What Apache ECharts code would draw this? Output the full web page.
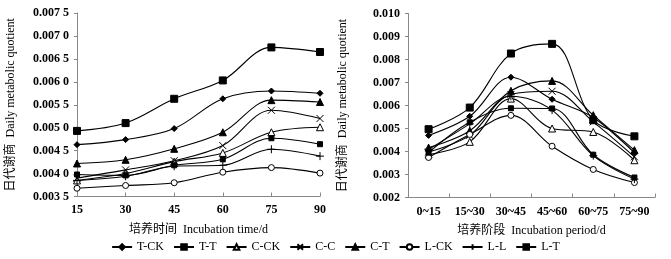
<!DOCTYPE html>
<html><head><meta charset="utf-8">
<script src="https://cdn.jsdelivr.net/npm/echarts@6/dist/echarts.min.js"></script>
<style>html,body{margin:0;padding:0;background:#fff}#c{width:671px;height:259px}</style>
</head><body><div id="c"></div>
<script>
var seriesNames = ['T-CK','T-T','C-CK','C-C','C-T','L-CK','L-L','L-T'];
var timeDays = [15,30,45,60,75,90];
var periods = ['0~15','15~30','30~45','45~60','60~75','75~90'];
var leftYTicks = [0.0035,0.0075,0.0005];
var rightYTicks = [0.002,0.010,0.001];

// Left: Daily metabolic quotient vs incubation time
var L_TCK = [0.00463,0.00474,0.00498,0.00563,0.00580,0.00575];
var L_TT  = [0.00493,0.00510,0.00563,0.00603,0.00675,0.00665];
var L_CCK = [0.00385,0.00400,0.00426,0.00445,0.00490,0.00501];
var L_CC  = [0.00390,0.00408,0.00428,0.00461,0.00538,0.00520];
var L_CT  = [0.00422,0.00430,0.00454,0.00490,0.00560,0.00556];
var L_LCK = [0.00368,0.00374,0.00380,0.00403,0.00413,0.00401];
var L_LL  = [0.00385,0.00394,0.00416,0.00418,0.00453,0.00438];
var L_LT  = [0.00398,0.00396,0.00418,0.00431,0.00477,0.00464];

// Right: Daily metabolic quotient vs incubation period
var R_TCK = [0.00470,0.00553,0.00723,0.00627,0.00548,0.00394];
var R_TT  = [0.00497,0.00591,0.00826,0.00868,0.00536,0.00466];
var R_CCK = [0.00387,0.00442,0.00630,0.00500,0.00485,0.00362];
var R_CC  = [0.00398,0.00470,0.00648,0.00662,0.00529,0.00377];
var R_CT  = [0.00417,0.00490,0.00664,0.00707,0.00558,0.00406];
var R_LCK = [0.00374,0.00474,0.00557,0.00423,0.00322,0.00265];
var R_LL  = [0.00409,0.00520,0.00640,0.00580,0.00382,0.00280];
var R_LT  = [0.00395,0.00527,0.00588,0.00587,0.00386,0.00287];

var leftData = [L_TCK,L_TT,L_CCK,L_CC,L_CT,L_LCK,L_LL,L_LT];
var rightData = [R_TCK,R_TT,R_CCK,R_CC,R_CT,R_LCK,R_LL,R_LT];

var serif = "'Liberation Serif','Times New Roman','Noto Sans CJK SC',serif";
var titleFont = "'Liberation Serif','Noto Sans CJK SC',serif";

var symbolDefs = [
  {symbol:'diamond', size:6, fill:'#000'},
  {symbol:'rect', size:7, fill:'#000'},
  {symbol:'triangle', size:7, fill:'#fff'},
  {symbol:'path://M0,0L10,10M10,0L0,10', size:7, fill:'#000'},
  {symbol:'triangle', size:7, fill:'#000'},
  {symbol:'circle', size:6, fill:'#fff'},
  {symbol:'path://M5,0L5,10M0,5L10,5', size:8, fill:'#000'},
  {symbol:'rect', size:5, fill:'#000'}
];

function fmtLeft(v){ var s = v.toFixed(4); return s.slice(0,5)+' '+s.slice(5); }
function fmtRight(v){ return v.toFixed(3); }

var series = [];
seriesNames.forEach(function(n,i){
  var sd = symbolDefs[i];
  var base = {
    name:n, type:'line', smooth:0.35, symbol:sd.symbol, symbolSize:sd.size,
    showAllSymbol:true,
    lineStyle:{color:'#000', width:1.1},
    itemStyle:{color:sd.fill, borderColor:'#000', borderWidth:1},
    emphasis:{disabled:true}, animation:false, z: 2
  };
  series.push(Object.assign({}, base, {xAxisIndex:0, yAxisIndex:0,
    data: timeDays.map(function(d,k){return [d, leftData[i][k]];})}));
  series.push(Object.assign({}, base, {xAxisIndex:1, yAxisIndex:1,
    data: rightData[i].slice()}));
});

var axisLineStyle = {lineStyle:{color:'#888', width:1}};
var tickLabel = {fontFamily:serif, fontWeight:'bold', fontSize:12, color:'#000'};
var nameStyle = {fontFamily:titleFont, fontSize:12, color:'#000'};

var chart = echarts.init(document.getElementById('c'), null, {renderer:'canvas'});
chart.setOption({
  animation:false,
  backgroundColor:'#fff',
  grid:[
    {left:77, top:13, width:243, height:183.5},
    {left:408, top:13.5, width:247, height:184}
  ],
  xAxis:[
    {type:'value', gridIndex:0, min:timeDays[0], max:timeDays[timeDays.length-1], interval:15,
     splitLine:{show:false}, axisLine:axisLineStyle,
     axisTick:{show:true, inside:true, length:4, lineStyle:{color:'#888'}},
     axisLabel:Object.assign({margin:7}, tickLabel),
     name:'培养时间  Incubation time/d', nameLocation:'middle', nameGap:27, nameTextStyle:nameStyle},
    {type:'category', gridIndex:1, data:periods, boundaryGap:true,
     splitLine:{show:false}, axisLine:axisLineStyle,
     axisTick:{show:true, inside:true, length:4, lineStyle:{color:'#888'}},
     axisLabel:Object.assign({margin:8, interval:0}, tickLabel),
     name:'培养阶段  Incubation period/d', nameLocation:'middle', nameGap:27, nameTextStyle:nameStyle}
  ],
  yAxis:[
    {type:'value', gridIndex:0, min:leftYTicks[0], max:leftYTicks[1], interval:leftYTicks[2],
     splitLine:{show:false}, axisLine:Object.assign({show:true},axisLineStyle),
     axisTick:{show:true, length:3, lineStyle:{color:'#888'}},
     axisLabel:Object.assign({margin:8, formatter:fmtLeft}, tickLabel),
     name:'日代谢商  Daily metabolic quotient', nameLocation:'middle', nameRotate:90, nameGap:60, nameTextStyle:nameStyle},
    {type:'value', gridIndex:1, min:rightYTicks[0], max:rightYTicks[1], interval:rightYTicks[2],
     splitLine:{show:false}, axisLine:Object.assign({show:true},axisLineStyle),
     axisTick:{show:true, length:3, lineStyle:{color:'#888'}},
     axisLabel:Object.assign({margin:8, formatter:fmtRight}, tickLabel),
     name:'日代谢商  Daily metabolic quotient', nameLocation:'middle', nameRotate:90, nameGap:59, nameTextStyle:nameStyle}
  ],
  legend:{
    data:seriesNames, bottom:1, left:'center', itemWidth:20, itemHeight:7, itemGap:9,
    textStyle:{fontFamily:serif, fontSize:12, color:'#000'}
  },
  series:series
});
</script></body></html>
